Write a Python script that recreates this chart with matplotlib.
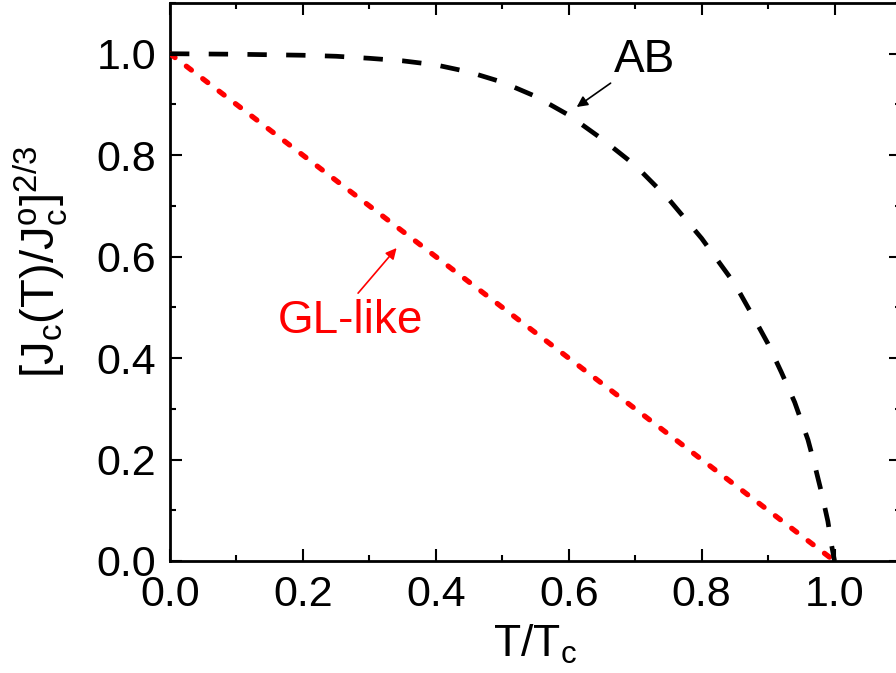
import numpy as np
import matplotlib
matplotlib.use("Agg")
import matplotlib.pyplot as plt
from matplotlib.ticker import MultipleLocator

plt.rcParams["font.family"] = ["Liberation Sans", "DejaVu Sans"]
plt.rcParams["mathtext.fontset"] = "custom"
plt.rcParams["mathtext.rm"] = "Liberation Sans"
plt.rcParams["mathtext.it"] = "Liberation Sans"
plt.rcParams["mathtext.default"] = "regular"

t_ab = [0.0, 0.1, 0.2, 0.25, 0.3, 0.35, 0.4, 0.45, 0.5, 0.55, 0.6, 0.65,
        0.7, 0.75, 0.8, 0.85, 0.88, 0.9, 0.92, 0.94, 0.96, 0.97, 0.98,
        0.99, 0.995, 1.0]
j_ab = [1.0, 0.999, 0.997, 0.995, 0.991, 0.986, 0.978, 0.964, 0.944, 0.916,
        0.879, 0.832, 0.780, 0.714, 0.636, 0.546, 0.476, 0.428, 0.372, 0.313,
        0.239, 0.190, 0.137, 0.078, 0.035, 0.0]

# GL-like behaviour: straight line
t_gl = [0.0, 1.0]
j_gl = [1.0, 0.0]

fig = plt.figure(figsize=(8.96, 6.73), dpi=100)
ax = fig.add_axes([170 / 896, 112 / 673, 731 / 896, 558 / 673])

ax.plot(t_gl, j_gl, color="#ff0000", lw=3.8, dashes=(1.2, 2.7),
        dash_capstyle="round", zorder=3)
ax.plot(t_ab, j_ab, color="black", lw=3.4, dashes=(4.1, 4.1), zorder=3)

ax.set_xlim(0, 1.1)
ax.set_ylim(0, 1.1)
ax.xaxis.set_major_locator(MultipleLocator(0.2))
ax.xaxis.set_minor_locator(MultipleLocator(0.1))
ax.yaxis.set_major_locator(MultipleLocator(0.2))
ax.yaxis.set_minor_locator(MultipleLocator(0.1))
ax.xaxis.set_major_formatter(lambda v, p: f"{v:.1f}")
ax.yaxis.set_major_formatter(lambda v, p: f"{v:.1f}")

ax.tick_params(which="both", direction="in", top=True, right=True,
               width=1.5, labelsize=31, pad=10)
ax.tick_params(which="major", length=8.5)
ax.tick_params(which="minor", length=4.5)
for s in ax.spines.values():
    s.set_linewidth(2)

fig.text(41 / 896, 1 - 262 / 673, r"$[J_c(T)/J^o_c]^{2/3}$", rotation=90,
         ha="center", va="center", fontsize=34)
fig.text(535 / 896, 1 - 644 / 673, r"$T/T_c$", ha="center", va="center",
         fontsize=32)

# labels with arrows
ax.text(0.714, 0.987, "AB", fontsize=33, ha="center", va="center")
ax.annotate("", xy=(0.612, 0.895), xytext=(0.663, 0.942),
            arrowprops=dict(arrowstyle="-|>", color="black", lw=1.2,
                            mutation_scale=16, shrinkA=0, shrinkB=0))
ax.text(0.271, 0.473, "GL-like", fontsize=33, color="#ff0000",
        ha="center", va="center")
ax.annotate("", xy=(0.341, 0.617), xytext=(0.283, 0.528),
            arrowprops=dict(arrowstyle="-|>", color="#ff0000", lw=1.2,
                            mutation_scale=16, shrinkA=0, shrinkB=0))

fig.savefig("out.png", dpi=100)
